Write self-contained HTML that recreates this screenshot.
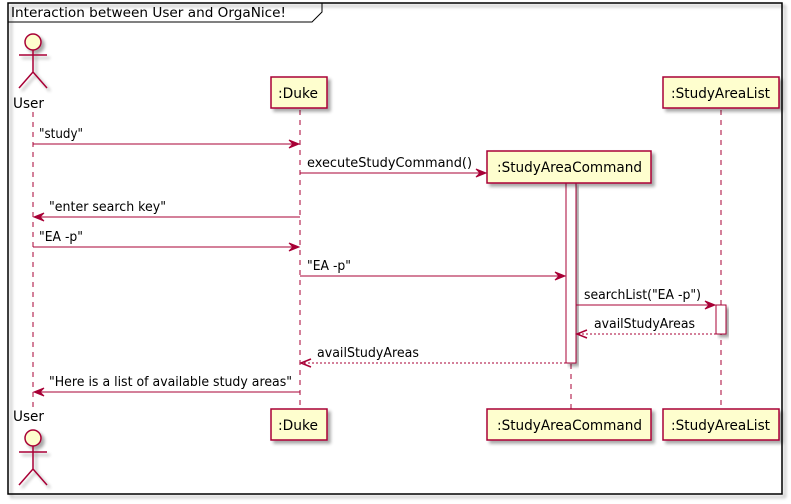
<!DOCTYPE html>
<html><head><meta charset="utf-8"><style>
html,body{margin:0;padding:0;background:#fff;}
svg{display:block;}
text{font-family:"DejaVu Sans","Liberation Sans",sans-serif;font-size:13px;fill:#000;}
</style></head><body>
<svg width="791" height="504" viewBox="0 0 791 504" xmlns="http://www.w3.org/2000/svg">
<defs>
<filter id="sh" x="-20%" y="-20%" width="150%" height="150%"><feGaussianBlur in="SourceAlpha" stdDeviation="1.5"/><feOffset dx="3" dy="3"/><feComponentTransfer><feFuncA type="linear" slope="0.35"/></feComponentTransfer><feMerge><feMergeNode/><feMergeNode in="SourceGraphic"/></feMerge></filter>
</defs>
<rect x="8" y="3" width="774" height="491" fill="none" stroke="#000" stroke-width="1.5" filter="url(#sh)"/>
<path d="M8,22 H312 L322,12 V3" fill="none" stroke="#000" stroke-width="1"/>
<text x="11" y="17" textLength="275" lengthAdjust="spacingAndGlyphs">Interaction between User and OrgaNice!</text>
<g stroke="#A80036" stroke-width="1" stroke-dasharray="5,5" fill="none">
<line x1="33" y1="112" x2="33" y2="410"/>
<line x1="300" y1="110" x2="300" y2="410"/>
<line x1="571" y1="184" x2="571" y2="410"/>
<line x1="721" y1="110" x2="721" y2="410"/>
</g>
<rect x="566" y="183" width="10" height="180" fill="#fff" stroke="#A80036" filter="url(#sh)"/>
<rect x="716" y="305" width="10" height="29" fill="#fff" stroke="#A80036" filter="url(#sh)"/>
<g fill="#FEFECE" stroke="#A80036" stroke-width="1.5" filter="url(#sh)">
<rect x="271" y="77" width="56" height="31"/>
<rect x="663" y="77" width="116" height="31"/>
<rect x="487" y="151" width="164" height="32"/>
<rect x="271" y="409" width="56" height="31"/>
<rect x="487" y="409" width="164" height="31"/>
<rect x="663" y="409" width="116" height="31"/>
</g>
<g font-size="14">
<text x="278" y="98" textLength="40" lengthAdjust="spacingAndGlyphs" style="font-size:14px">:Duke</text>
<text x="671" y="98" textLength="99" lengthAdjust="spacingAndGlyphs" style="font-size:14px">:StudyAreaList</text>
<text x="497" y="172" textLength="145" lengthAdjust="spacingAndGlyphs" style="font-size:14px">:StudyAreaCommand</text>
<text x="278" y="430" textLength="40" lengthAdjust="spacingAndGlyphs" style="font-size:14px">:Duke</text>
<text x="497" y="430" textLength="145" lengthAdjust="spacingAndGlyphs" style="font-size:14px">:StudyAreaCommand</text>
<text x="671" y="430" textLength="99" lengthAdjust="spacingAndGlyphs" style="font-size:14px">:StudyAreaList</text>
</g>
<g fill="none" stroke="#A80036" stroke-width="1.5" filter="url(#sh)">
<circle cx="33" cy="42" r="8" fill="#FEFECE"/>
<path d="M33,50 V72 M19,55 H47 M33,72 L19,88 M33,72 L47,88"/>
<circle cx="33" cy="438" r="8" fill="#FEFECE"/>
<path d="M33,446 V469 M19,452 H47 M33,469 L19,485 M33,469 L47,485"/>
</g>
<text x="13" y="108" textLength="31" lengthAdjust="spacingAndGlyphs" style="font-size:14px">User</text>
<text x="13" y="421" textLength="31" lengthAdjust="spacingAndGlyphs" style="font-size:14px">User</text>
<g stroke="#A80036" stroke-width="1" fill="none">
<line x1="33" y1="144" x2="298" y2="144"/>
<line x1="300" y1="173" x2="485" y2="173"/>
<line x1="300" y1="217" x2="35" y2="217"/>
<line x1="33" y1="247" x2="298" y2="247"/>
<line x1="300" y1="276" x2="564" y2="276"/>
<line x1="576" y1="305" x2="714" y2="305"/>
<line x1="716" y1="334" x2="578" y2="334" stroke-dasharray="2,2"/>
<line x1="566" y1="363" x2="302" y2="363" stroke-dasharray="2,2"/>
<line x1="300" y1="392" x2="35" y2="392"/>
</g>
<g fill="#A80036" stroke="#A80036">
<path d="M299,144 L289,140 L293,144 L289,148Z"/>
<path d="M486,173 L476,169 L480,173 L476,177Z"/>
<path d="M34,217 L44,213 L40,217 L44,221Z"/>
<path d="M299,247 L289,243 L293,247 L289,251Z"/>
<path d="M565,276 L555,272 L559,276 L555,280Z"/>
<path d="M715,305 L705,301 L709,305 L705,309Z"/>
<path d="M34,392 L44,388 L40,392 L44,396Z"/>
</g>
<g fill="none" stroke="#A80036" stroke-width="1.5">
<path d="M587,330 L577,334 L587,338"/>
<path d="M311,359 L301,363 L311,367"/>
</g>
<text x="39" y="138" textLength="44" lengthAdjust="spacingAndGlyphs">"study"</text>
<text x="307" y="167" textLength="165" lengthAdjust="spacingAndGlyphs">executeStudyCommand()</text>
<text x="49" y="211" textLength="117" lengthAdjust="spacingAndGlyphs">"enter search key"</text>
<text x="39" y="241" textLength="44" lengthAdjust="spacingAndGlyphs">"EA -p"</text>
<text x="307" y="270" textLength="44" lengthAdjust="spacingAndGlyphs">"EA -p"</text>
<text x="584" y="299" textLength="117" lengthAdjust="spacingAndGlyphs">searchList("EA -p")</text>
<text x="594" y="328" textLength="101" lengthAdjust="spacingAndGlyphs">availStudyAreas</text>
<text x="317" y="357" textLength="102" lengthAdjust="spacingAndGlyphs">availStudyAreas</text>
<text x="49" y="386" textLength="243" lengthAdjust="spacingAndGlyphs">"Here is a list of available study areas"</text>
</svg>
</body></html>
